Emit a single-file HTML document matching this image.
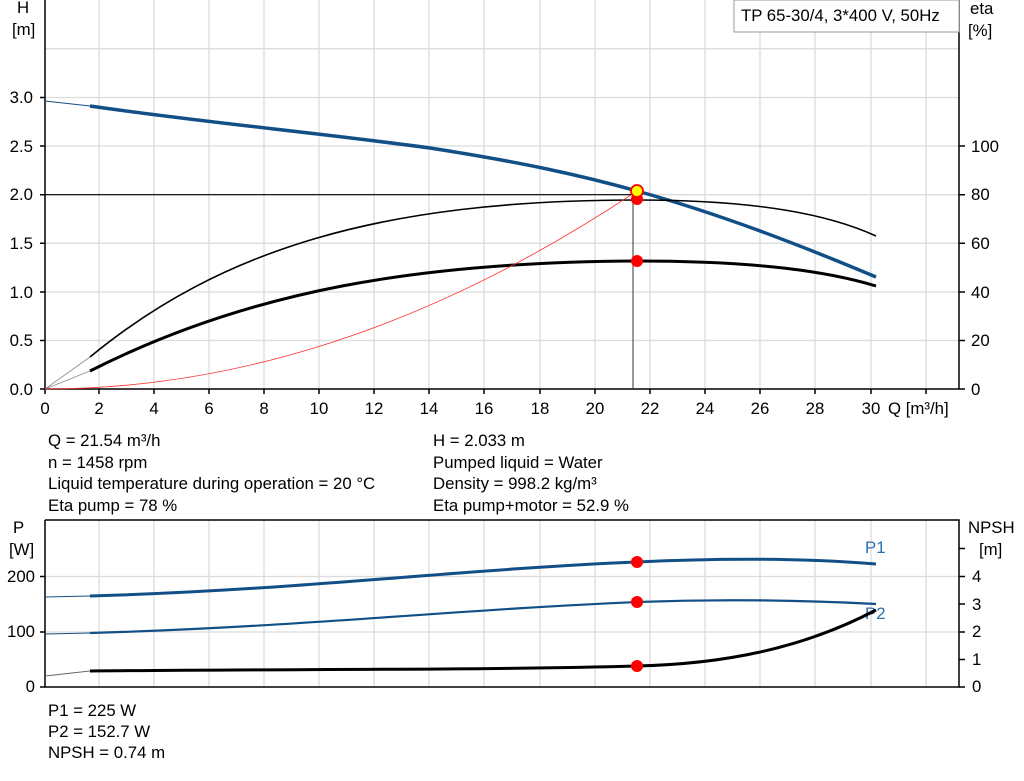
<!DOCTYPE html><html><head><meta charset="utf-8"><style>
body{margin:0;background:#fff}
svg{display:block;font-family:"Liberation Sans",Arial,sans-serif}
</style></head><body>
<svg width="1024" height="781" viewBox="0 0 1024 781" xmlns="http://www.w3.org/2000/svg">
<g stroke="#dcdcdc" stroke-width="1.3" fill="none">
<path d="M99 0V389M154 0V389M209 0V389M264 0V389M319 0V389M374 0V389M429 0V389M484 0V389M540 0V389M595 0V389M650 0V389M705 0V389M760 0V389M815 0V389M871 0V389M926 0V389"/>
<path d="M45 48.7H959M45 97.5H959M45 146H959M45 194.7H959M45 243.3H959M45 292H959M45 340.5H959"/>
<path d="M99 520V687M154 520V687M209 520V687M264 520V687M319 520V687M374 520V687M429 520V687M484 520V687M540 520V687M595 520V687M650 520V687M705 520V687M760 520V687M815 520V687M871 520V687M926 520V687"/>
<path d="M45 576.5H959M45 632H959"/>
</g>
<g stroke="#000" stroke-width="1.5" fill="none">
<path d="M45 0V389H959V0"/>
<path d="M40 97.5H45M40 146H45M40 194.7H45M40 243.3H45M40 292H45M40 340.5H45M40 389H45"/>
<path d="M959 146H965M959 194.7H965M959 243.3H965M959 292H965M959 340.5H965M959 389H965"/>
<path d="M45 389V394M99 389V394M154 389V394M209 389V394M264 389V394M319 389V394M374 389V394M429 389V394M484 389V394M540 389V394M595 389V394M650 389V394M705 389V394M760 389V394M815 389V394M871 389V394M926 389V394"/>
<path d="M45 520V687H959V520H45"/>
<path d="M40 576.5H45M40 632H45M40 687H45"/>
<path d="M959 548.5H965M959 576.5H965M959 604H965M959 632H965M959 659.5H965M959 687H965"/>
</g>
<rect x="734" y="0" width="225" height="32" fill="#fff" stroke="#999" stroke-width="1"/>
<g font-size="16.8" fill="#000">
<text x="741" y="21">TP 65-30/4, 3*400 V, 50Hz</text>
<text x="17" y="13">H</text><text x="12" y="35">[m]</text>
<text x="970" y="14">eta</text><text x="968" y="36">[%]</text>
<g text-anchor="end">
<text x="33" y="103">3.0</text><text x="33" y="152">2.5</text><text x="33" y="200">2.0</text><text x="33" y="249">1.5</text><text x="33" y="298">1.0</text><text x="33" y="346">0.5</text><text x="33" y="395">0.0</text>
<text x="35" y="582">200</text><text x="35" y="637">100</text><text x="35" y="692">0</text>
</g>
<text x="971" y="152">100</text><text x="971" y="200">80</text><text x="971" y="249">60</text><text x="971" y="298">40</text><text x="971" y="346">20</text><text x="971" y="395">0</text>
<g text-anchor="middle">
<text x="45" y="414">0</text><text x="99" y="414">2</text><text x="154" y="414">4</text><text x="209" y="414">6</text><text x="264" y="414">8</text><text x="319" y="414">10</text><text x="374" y="414">12</text><text x="429" y="414">14</text><text x="484" y="414">16</text><text x="540" y="414">18</text><text x="595" y="414">20</text><text x="650" y="414">22</text><text x="705" y="414">24</text><text x="760" y="414">26</text><text x="815" y="414">28</text><text x="871" y="414">30</text>
</g>
<text x="888" y="414">Q [m³/h]</text>
<text x="48" y="446">Q = 21.54 m³/h</text><text x="48" y="468">n = 1458 rpm</text><text x="48" y="489">Liquid temperature during operation = 20 °C</text><text x="48" y="511">Eta pump = 78 %</text>
<text x="433" y="446">H = 2.033 m</text><text x="433" y="468">Pumped liquid = Water</text><text x="433" y="489">Density = 998.2 kg/m³</text><text x="433" y="511">Eta pump+motor = 52.9 %</text>
<text x="13" y="533">P</text><text x="9" y="555">[W]</text>
<text x="968" y="533">NPSH</text><text x="979" y="555">[m]</text>
<text x="972" y="582">4</text><text x="972" y="610">3</text><text x="972" y="637">2</text><text x="972" y="665">1</text><text x="972" y="692">0</text>
<text x="48" y="716">P1 = 225 W</text><text x="48" y="737">P2 = 152.7 W</text><text x="48" y="758">NPSH = 0.74 m</text>
</g>
<text x="865" y="553" font-size="16.8" fill="#2a6fb0">P1</text>
<text x="865" y="619" font-size="16.8" fill="#2a6fb0">P2</text>
<path d="M45 101L90 106" stroke="#124f86" stroke-width="1" fill="none"/>
<path d="M90 106C200 122 320 133 430 148C520 162 580 175 637 191C720 214 800 245 876 277" stroke="#124f86" stroke-width="3.5" fill="none"/>
<path d="M45 389L90 357M45 389L90 371" stroke="#888" stroke-width="0.8" fill="none"/>
<path d="M90 357C220 250 380 200 637 200C760 200 830 215 876 236" stroke="#000" stroke-width="1.6" fill="none"/>
<path d="M90 371C250 290 420 262 637 261C760 261 830 272 876 286" stroke="#000" stroke-width="3" fill="none"/>
<path d="M45 389Q340 389 637 191" stroke="#ff3030" stroke-width="0.8" fill="none"/>
<path d="M45 194.7H637" stroke="#000" stroke-width="1.2"/>
<path d="M633 191V389" stroke="#333" stroke-width="1"/>
<circle cx="637" cy="199" r="6" fill="#f00"/>
<circle cx="637" cy="261" r="6" fill="#f00"/>
<circle cx="637" cy="191" r="6" fill="#ff0" stroke="#f00" stroke-width="1.8"/>
<path d="M45 597L90 596M45 634L90 633" stroke-width="1" fill="none" stroke="#124f86"/>
<path d="M45 676L90 671" stroke="#666" stroke-width="1"/>
<path d="M90 596C300 590 450 570 637 562C720 558 800 558 876 564" stroke="#124f86" stroke-width="3" fill="none"/>
<path d="M90 633C300 627 450 610 637 602C720 599 800 600 876 604" stroke="#124f86" stroke-width="2.2" fill="none"/>
<path d="M90 671C300 669 500 670 637 666C720 664 800 650 876 610" stroke="#000" stroke-width="3" fill="none"/>
<circle cx="637" cy="562" r="6" fill="#f00"/>
<circle cx="637" cy="602" r="6" fill="#f00"/>
<circle cx="637" cy="666" r="6" fill="#f00"/>
</svg>
</body></html>
